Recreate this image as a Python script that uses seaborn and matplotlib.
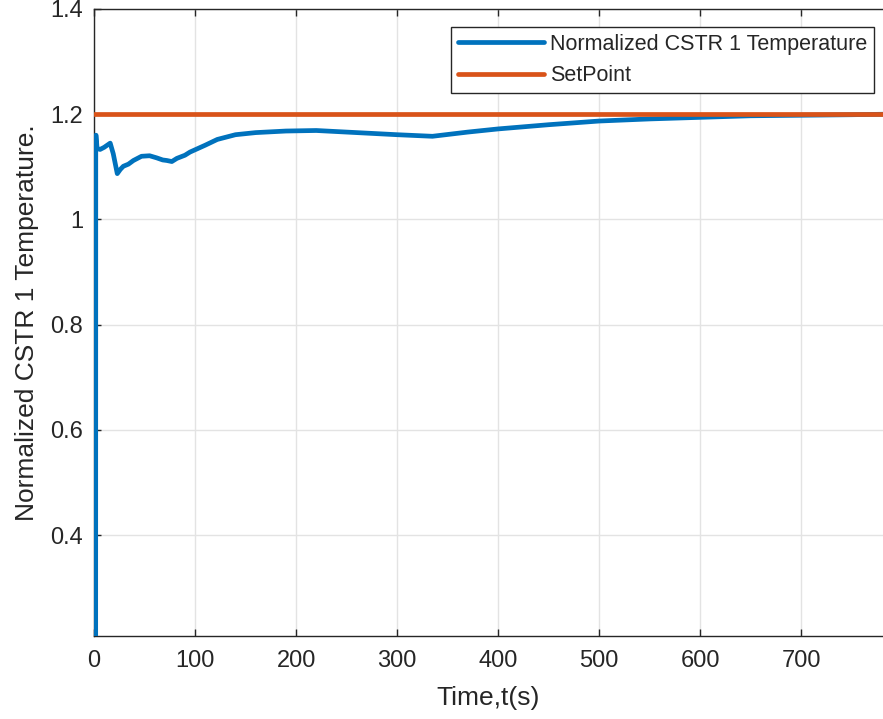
import numpy as np
import pandas as pd
import seaborn as sns
import matplotlib.pyplot as plt

# values
time_s = [1.6, 1.7, 2.0, 3, 6, 10, 16, 19, 23, 26, 29, 34, 39, 47, 55, 62, 68, 72,
          77, 82, 90, 95, 110, 122, 140, 160, 190, 220, 260, 300, 335, 370, 400,
          450, 500, 550, 600, 650, 700, 750, 785]
temperature = [0.15, 1.16, 1.16, 1.135, 1.133, 1.137, 1.145, 1.125, 1.087, 1.095,
               1.101, 1.105, 1.112, 1.12, 1.121, 1.117, 1.113, 1.112, 1.11, 1.116,
               1.122, 1.128, 1.141, 1.152, 1.161, 1.165, 1.168, 1.169, 1.165, 1.161,
               1.158, 1.166, 1.172, 1.18, 1.187, 1.191, 1.194, 1.197, 1.198, 1.199, 1.2]
setpoint = 1.2

df = pd.DataFrame({'time': time_s, 'temp': temperature})
df_sp = pd.DataFrame({'time': [0, 785], 'temp': [setpoint, setpoint]})

sns.set_style("whitegrid")
plt.rcParams['font.family'] = ['Liberation Sans', 'DejaVu Sans']

fig = plt.figure(figsize=(8.83, 7.19), dpi=100)
ax = fig.add_axes([0.1065, 0.1154, 0.8935, 0.8721])

sns.lineplot(data=df, x='time', y='temp', ax=ax, color='#0072BD', linewidth=3.4,
             label='Normalized CSTR 1 Temperature', zorder=3)
sns.lineplot(data=df_sp, x='time', y='temp', ax=ax, color='#D95319', linewidth=3.4,
             label='SetPoint', zorder=3)

ax.set_xlim(0, 781)
ax.set_ylim(0.208, 1.4)
ax.set_xticks(range(0, 800, 100))
ax.set_yticks([0.4, 0.6, 0.8, 1.0, 1.2, 1.4])
ax.set_yticklabels(['0.4', '0.6', '0.8', '1', '1.2', '1.4'])
ax.set_xlabel('Time,t(s)', fontsize=19, color='#262626', labelpad=10)
ax.set_ylabel('Normalized CSTR 1 Temperature.', fontsize=19, color='#262626',
              labelpad=8)

ax.grid(True, color='#e3e3e3', linewidth=1)
for side in ['left', 'bottom', 'top']:
    ax.spines[side].set_color('#262626')
    ax.spines[side].set_linewidth(1)
ax.spines['right'].set_visible(False)
ax.tick_params(axis='both', direction='in', length=5, width=1, color='#262626',
               labelsize=17, labelcolor='#262626', top=True, left=True, bottom=True)
ax.tick_params(axis='x', pad=10)
ax.tick_params(axis='y', pad=8)

leg = ax.legend(loc='upper right', bbox_to_anchor=(0.9885, 0.971), fontsize=15.5,
                frameon=True, fancybox=False, handlelength=4.0, borderpad=0.3,
                labelspacing=0.5, handletextpad=0.3, borderaxespad=0)
leg.get_frame().set_edgecolor('#262626')
leg.get_frame().set_linewidth(1)
leg.get_frame().set_alpha(1)

fig.savefig('out.png', dpi=100)
